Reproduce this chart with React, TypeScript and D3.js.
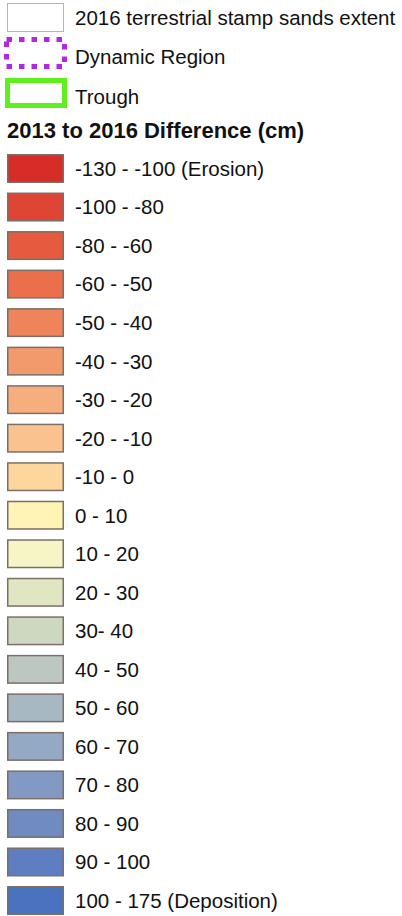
import React, { useRef, useEffect } from 'react';
import * as d3 from 'd3';

const W = 402;
const H = 916;

// difference classes (cm), top to bottom
const classLabels = [
  '-130 - -100 (Erosion)', '-100 - -80', '-80 - -60', '-60 - -50', '-50 - -40',
  '-40 - -30', '-30 - -20', '-20 - -10', '-10 - 0', '0 - 10',
  '10 - 20', '20 - 30', '30- 40', '40 - 50', '50 - 60',
  '60 - 70', '70 - 80', '80 - 90', '90 - 100', '100 - 175 (Deposition)',
];
const classColors = [
  '#d62d27', '#df4534', '#e65b3f', '#eb6f4b', '#ef845a',
  '#f39a6c', '#f7ae7e', '#fac28e', '#fdd69e', '#fff3b6',
  '#f5f5c5', '#e1e6c2', '#ced7c0', '#bbc7c0', '#a8b8c3',
  '#94a9c4', '#8199c3', '#6f8bc2', '#5d7fc1', '#4a72bf',
];

// boundary layers
const layerLabels = ['2016 terrestrial stamp sands extent', 'Dynamic Region', 'Trough'];
const layerStroke = ['#c9a6cf', '#b128e0', '#5ef01c'];
const title = '2013 to 2016 Difference (cm)';

const FONT = '"Liberation Sans", Arial, sans-serif';

const App = () => {
  const svgRef = useRef<SVGSVGElement>(null);

  useEffect(() => {
    const svg = d3.select(svgRef.current);
    svg.selectAll('*').remove();

    const swX = 7, swW = 57, swH = 29, textX = 75;

    // top layer swatches
    const yTop = d3.scaleLinear().domain([0, 2]).range([3, 79]);
    const top = svg.selectAll('g.layer')
      .data(layerLabels)
      .enter()
      .append('g')
      .attr('class', 'layer')
      .attr('transform', (d, i) => `translate(0, ${yTop(i)})`);

    top.append('rect')
      .attr('x', (d, i) => [swX + 0.5, 6.5, 7.5][i])
      .attr('y', (d, i) => [0.5, -1.5, 1.5][i])
      .attr('width', (d, i) => [swW - 1, 58, 57][i])
      .attr('height', (d, i) => [swH - 1, 27, 25][i])
      .attr('fill', 'white')
      .attr('stroke', (d, i) => layerStroke[i])
      .attr('stroke-width', (d, i) => [1, 5, 5][i])
      .attr('stroke-dasharray', (d, i) => (i === 1 ? '5.5,7' : null));

    top.append('text')
      .attr('x', textX)
      .attr('y', (d, i) => [15, 16, 17.5][i])
      .attr('dy', '0.36em')
      .attr('font-family', FONT)
      .attr('font-size', 20.5)
      .attr('fill', '#111')
      .text(d => d);

    svg.append('text')
      .attr('x', 7)
      .attr('y', 138)
      .attr('font-family', FONT)
      .attr('font-size', 22)
      .attr('font-weight', 'bold')
      .attr('fill', '#111')
      .text(title);

    // class swatches
    const y = d3.scaleLinear().domain([0, classLabels.length - 1]).range([154, 886]);
    const rows = svg.selectAll('g.cls')
      .data(classLabels)
      .enter()
      .append('g')
      .attr('class', 'cls')
      .attr('transform', (d, i) => `translate(0, ${y(i)})`);

    rows.append('rect')
      .attr('x', swX + 0.75)
      .attr('y', 0.75)
      .attr('width', swW - 1.5)
      .attr('height', swH - 1.5)
      .attr('fill', (d, i) => classColors[i])
      .attr('stroke', '#7b6f68')
      .attr('stroke-width', 1.5);

    rows.append('text')
      .attr('x', textX)
      .attr('y', swH / 2)
      .attr('dy', '0.36em')
      .attr('font-family', FONT)
      .attr('font-size', 20.5)
      .attr('fill', '#111')
      .text(d => d);
  }, []);

  return (
    <>
      <style>{'body{margin:0;background:#fff}'}</style>
      <svg ref={svgRef} width={W} height={H} style={{ display: 'block' }}></svg>
    </>
  );
};

export default App;
